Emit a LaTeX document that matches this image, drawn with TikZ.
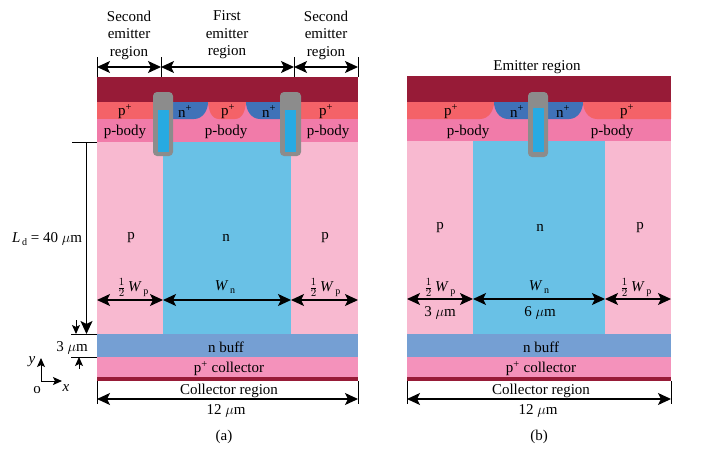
\documentclass[tikz,border=0pt]{standalone}
\usepackage{fontspec}
\setmainfont{Liberation Serif}
\usetikzlibrary{arrows.meta}
\definecolor{metalcol}{HTML}{971B37}
\definecolor{ppluscol}{HTML}{F46268}
\definecolor{npluscol}{HTML}{3F72B8}
\definecolor{bodycol}{HTML}{F17BA9}
\definecolor{pcol}{HTML}{F8B9D0}
\definecolor{ncol}{HTML}{69C1E6}
\definecolor{buffcol}{HTML}{759FD3}
\definecolor{collcol}{HTML}{F492BB}
\definecolor{gatecol}{HTML}{8C8C8C}
\definecolor{polycol}{HTML}{27AAE2}
\tikzset{
  lab/.style={inner sep=0pt, yshift=-1.5pt, font=\fontsize{15}{15}\selectfont},
  tick/.style={line width=1pt},
  dim/.style={line width=1.2pt, {Stealth[length=13pt,width=12pt,inset=3pt]}-{Stealth[length=13pt,width=12pt,inset=3pt]}},
  dimone/.style={line width=1.2pt, -{Stealth[length=13pt,width=12pt,inset=3pt]}},
  dimsmall/.style={line width=1pt, -{Stealth[length=9pt,width=8pt,inset=2pt]}},
  gate/.style={fill=gatecol, rounded corners=4pt},
}
\newcommand{\halfwp}{$\frac{1}{2}$\,\textit{W}\raisebox{-3pt}{\fontsize{10}{10}\selectfont\,p}}
\newcommand{\wn}{\textit{W}\raisebox{-3pt}{\fontsize{10}{10}\selectfont\,n}}
\newcommand{\um}{$\mu$m}
\begin{document}
\begin{tikzpicture}[x=1pt, y=-1pt]
    \useasboundingbox (0,0) rectangle (708,450);
    % (a) layers
    \fill[pcol] (97,142) rectangle (358,334);
    \fill[ncol] (163,142) rectangle (291,334);
    \fill[bodycol] (97,102) rectangle (358,142);
    \fill[metalcol] (97,77) rectangle (358,102);
    \fill[buffcol] (97,334) rectangle (358,357);
    \fill[collcol] (97,357) rectangle (358,377);
    \fill[metalcol] (97,377) rectangle (358,381);
    \fill[ppluscol] (97,102) rectangle (160,119);
    \fill[ppluscol] (295,102) rectangle (358,119);
    \fill[npluscol] (170,102) -- (208,102) to[out=-90, in=0] (194,119) -- (170,119) -- cycle;
    \fill[npluscol] (284,102) -- (246,102) to[out=-90, in=180] (260,119) -- (284,119) -- cycle;
    \fill[ppluscol] (208,102) to[out=-85, in=180] (219,119) -- (235,119) to[out=0, in=-95] (246,102) -- cycle;
    \fill[gate] (153,92) rectangle (173,156);
    \fill[polycol] (158,110) rectangle (169,152);
    \fill[gate] (280,92) rectangle (301,156);
    \fill[polycol] (285,110) rectangle (296,152);
    % (b) layers
    \fill[pcol] (407,141) rectangle (671,334);
    \fill[ncol] (473,141) rectangle (605,334);
    \fill[bodycol] (407,102) rectangle (671,141);
    \fill[metalcol] (407,76) rectangle (671,102);
    \fill[buffcol] (407,334) rectangle (671,357);
    \fill[collcol] (407,357) rectangle (671,377);
    \fill[metalcol] (407,377) rectangle (671,381);
    \fill[ppluscol] (407,102) -- (494,102) to[out=-90, in=0] (480,119) -- (407,119) -- cycle;
    \fill[ppluscol] (671,102) -- (583,102) to[out=-90, in=180] (597,119) -- (671,119) -- cycle;
    \fill[npluscol] (494,102) to[out=-90, in=180] (508,119) -- (569,119) to[out=0, in=-90] (583,102) -- cycle;
    \fill[gate] (528,92) rectangle (548,157);
    \fill[polycol] (533,108) rectangle (544,152);

    % (a) top dimensions
    \coordinate (atopa) at (97,67);
    \coordinate (atopb) at (161,67);
    \coordinate (atopc) at (294,67);
    \coordinate (atopd) at (358,67);
    \draw[tick] (97,57) -- (97,77);
    \draw[tick] (161,57) -- (161,77);
    \draw[tick] (294,57) -- (294,77);
    \draw[tick] (358,57) -- (358,77);
    \draw[dim] (atopa) -- (atopb);
    \draw[dim] (atopb) -- (atopc);
    \draw[dim] (atopc) -- (atopd);
    \node[lab, align=center] (secl) at (129,33.5) {Second\\[2.5pt]emitter\\[2.5pt]region};
    \node[lab, align=center] (first) at (227,33.5) {First\\[2.5pt]emitter\\[2.5pt]region};
    \node[lab, align=center] (secr) at (326,33.5) {Second\\[2.5pt]emitter\\[2.5pt]region};

    % (a) layer texts
    \node[lab] (appa) at (125,110) {p\textsuperscript{+}};
    \node[lab] (anpa) at (185,110) {n\textsuperscript{+}};
    \node[lab] (appb) at (228,110) {p\textsuperscript{+}};
    \node[lab] (anpb) at (269,110) {n\textsuperscript{+}};
    \node[lab] (appc) at (326,110) {p\textsuperscript{+}};
    \node[lab] (abodya) at (125,130) {p-body};
    \node[lab] (abodyb) at (226,130) {p-body};
    \node[lab] (abodyc) at (328,130) {p-body};
    \node[lab] (apa) at (131,236) {p};
    \node[lab] (an) at (226,236) {n};
    \node[lab] (apb) at (325,236) {p};
    \node[lab] (abuff) at (226,346) {n buff};
    \node[lab] (acoll) at (229,367) {p\textsuperscript{+} collector};
    \node[lab] (acollr) at (229,389) {Collector region};
    \node[lab] (aum) at (226,409) {12 \um};
    \node[lab] (acap) at (224,435) {(a)};

    % (a) width arrows
    \coordinate (awa) at (97,300);
    \coordinate (awb) at (163,300);
    \coordinate (awc) at (291,300);
    \coordinate (awd) at (358,300);
    \draw[dim] (awa) -- (awb);
    \draw[dim] (awb) -- (awc);
    \draw[dim] (awc) -- (awd);
    \node[lab] (awpa) at (133,286) {\halfwp};
    \node[lab] (awn) at (225,286) {\wn};
    \node[lab] (awpb) at (325,286) {\halfwp};

    % (a) bottom width
    \coordinate (abota) at (97,399);
    \coordinate (abotb) at (358,399);
    \draw[tick] (97,381) -- (97,404);
    \draw[tick] (358,381) -- (358,404);
    \draw[dim] (abota) -- (abotb);

    % (a) depth
    \draw[tick] (72,142) -- (97,142);
    \draw[tick] (71,334) -- (97,334);
    \draw[tick] (71,357) -- (97,357);
    \coordinate (lda) at (86.5,142);
    \coordinate (ldb) at (86.5,334);
    \draw[dimone] (lda) -- (ldb);
    \node[lab] (ldlab) at (47,238) {\textit{L}\raisebox{-3pt}{\fontsize{10}{10}\selectfont\,d} = 40 \um};
    \coordinate (tha) at (76,320);
    \coordinate (thb) at (76,334);
    \coordinate (thc) at (79,369);
    \coordinate (thd) at (79,357);
    \draw[dimsmall] (tha) -- (thb);
    \draw[dimsmall] (thc) -- (thd);
    \node[lab] (thlab) at (72,346) {3 \um};

    % axes
    \coordinate (org) at (41,381);
    \coordinate (axy) at (41,358);
    \coordinate (axx) at (62,381);
    \draw[dimsmall] (org) -- (axy);
    \draw[dimsmall] (org) -- (axx);
    \node[lab] (ylab) at (32,360) {\textit{y}};
    \node[lab] (xlab) at (66,387) {\textit{x}};
    \node[lab] (olab) at (37,389) {o};

    % (b) texts
    \node[lab] (emit) at (537,66) {Emitter region};
    \node[lab] (bppa) at (451,110) {p\textsuperscript{+}};
    \node[lab] (bnpa) at (517,110) {n\textsuperscript{+}};
    \node[lab] (bnpb) at (563,110) {n\textsuperscript{+}};
    \node[lab] (bppb) at (627,110) {p\textsuperscript{+}};
    \node[lab] (bbodya) at (468,130) {p-body};
    \node[lab] (bbodyb) at (612,130) {p-body};
    \node[lab] (bpa) at (440,226) {p};
    \node[lab] (bn) at (540,226) {n};
    \node[lab] (bpb) at (640,226) {p};
    \node[lab] (bbuff) at (541,346) {n buff};
    \node[lab] (bcoll) at (541,367) {p\textsuperscript{+} collector};
    \node[lab] (bcollr) at (541,389) {Collector region};
    \node[lab] (bum) at (538,409) {12 \um};
    \node[lab] (bcap) at (539,435) {(b)};

    % (b) width arrows
    \coordinate (bwa) at (407,299);
    \coordinate (bwb) at (473,299);
    \coordinate (bwc) at (605,299);
    \coordinate (bwd) at (671,299);
    \draw[dim] (bwa) -- (bwb);
    \draw[dim] (bwb) -- (bwc);
    \draw[dim] (bwc) -- (bwd);
    \node[lab] (bwpa) at (440,286) {\halfwp};
    \node[lab] (bwn) at (539,286) {\wn};
    \node[lab] (bwpb) at (636,286) {\halfwp};
    \node[lab] (bthr) at (440,311) {3 \um};
    \node[lab] (bsix) at (540,311) {6 \um};

    % (b) bottom width
    \coordinate (bbota) at (407,399);
    \coordinate (bbotb) at (671,399);
    \draw[tick] (407,381) -- (407,404);
    \draw[tick] (671,381) -- (671,404);
    \draw[dim] (bbota) -- (bbotb);
\end{tikzpicture}
\end{document}
